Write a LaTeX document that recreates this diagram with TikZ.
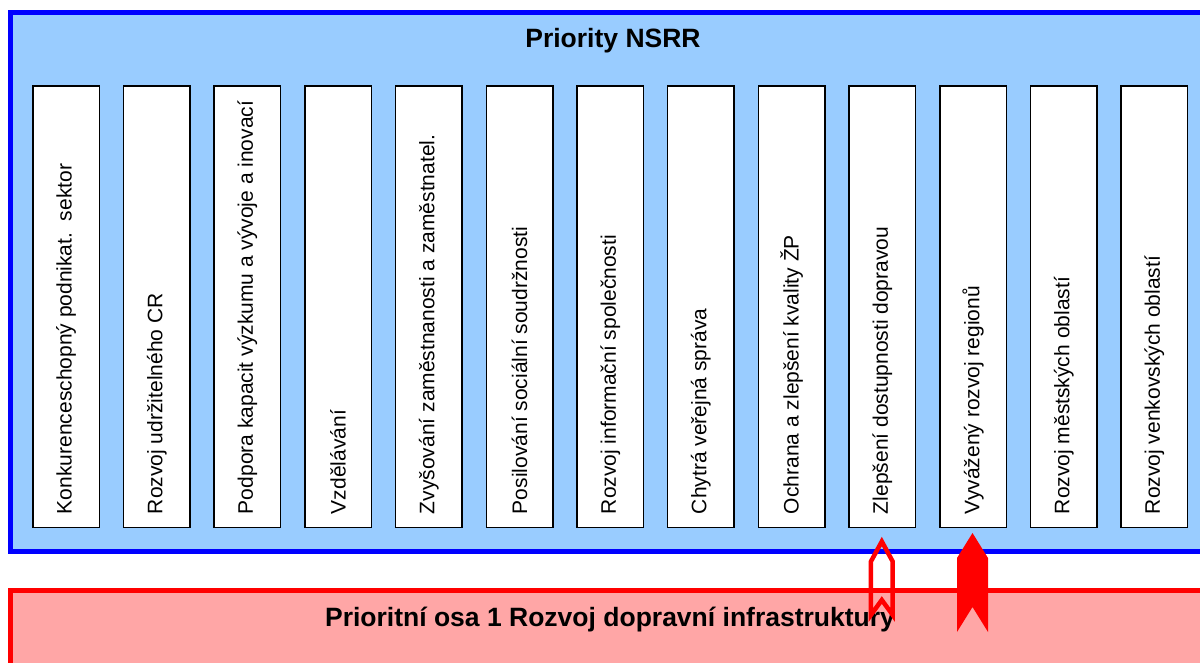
\documentclass[tikz,border=0pt]{standalone}
\usepackage{fontspec}
\setmainfont{Liberation Sans}
\usepackage{graphicx}
\usetikzlibrary{positioning, calc}
\definecolor{nsrrblue}{RGB}{153,204,255}
\definecolor{osared}{RGB}{255,166,166}
\newcommand{\prio}[1]{\rotatebox{90}{\makebox[415pt][l]{#1}}}

\begin{document}
\begin{tikzpicture}[x=1pt, y=-1pt,
    node distance=22.7pt,
    nsrrframe/.style={rectangle, draw=blue, fill=nsrrblue, line width=5pt, inner sep=0pt},
    osaframe/.style={rectangle, draw=red, fill=osared, line width=5pt, inner sep=0pt},
    prio/.style={rectangle, draw=black, fill=white, line width=1.5pt, inner sep=0pt, minimum width=66.5pt, minimum height=441.5pt, font=\fontsize{21}{24}\selectfont},
    heading/.style={font=\bfseries\fontsize{26.5}{30}\selectfont},
    osaarrow/.style={draw=red, line width=4.5pt, line join=miter, miter limit=10}
  ]
    \useasboundingbox (0,0) rectangle (1200,662);
    \clip (0,0) rectangle (1200,662);

    % Frames
    \node[nsrrframe, minimum width=1205pt, minimum height=539pt] (NSRR) at (613,282) {};
    \node[osaframe, minimum width=1199pt, minimum height=109pt] (OSA) at (610,645) {};
    \node[heading] (NSRRtitle) at (613,41) {Priority NSRR};
    \node[heading] (OSAtitle) at (610,620) {Prioritní osa 1 Rozvoj dopravní infrastruktury};

    % Priority boxes
    \node[prio] (P1) at (66,306.5) {\prio{Konkurenceschopný podnikat.\ \ sektor}};
    \node[prio, right=of P1] (P2) {\prio{Rozvoj udržitelného CR}};
    \node[prio, right=of P2] (P3) {\prio{Podpora kapacit výzkumu a vývoje a inovací}};
    \node[prio, right=of P3] (P4) {\prio{Vzdělávání}};
    \node[prio, right=of P4] (P5) {\prio{Zvyšování zaměstnanosti a zaměstnatel.}};
    \node[prio, right=of P5] (P6) {\prio{Posilování sociální soudržnosti}};
    \node[prio, right=of P6] (P7) {\prio{Rozvoj informační společnosti}};
    \node[prio, right=of P7] (P8) {\prio{Chytrá veřejná správa}};
    \node[prio, right=of P8] (P9) {\prio{Ochrana a zlepšení kvality ŽP}};
    \node[prio, right=of P9] (P10) {\prio{Zlepšení dostupnosti dopravou}};
    \node[prio, right=of P10] (P11) {\prio{Vyvážený rozvoj regionů}};
    \node[prio, right=of P11] (P12) {\prio{Rozvoj městských oblastí}};
    \node[prio, right=of P12] (P13) {\prio{Rozvoj venkovských oblastí}};

    % Arrows from the axis up to the priorities
    \draw[osaarrow] ($(P10.south)+(-0.5,13.5)$) -- ++(10.9,20) -- ++(0,53.5) -- ++(-10.9,-15)
      -- ++(-10.9,15) -- ++(0,-53.5) -- cycle;
    \fill[red] ($(P11.south)+(-0.5,5)$) -- ++(15.5,25) -- ++(0,74) -- ++(-15.5,-25)
      -- ++(-15.5,25) -- ++(0,-74) -- cycle;
  \end{tikzpicture}
\end{document}
